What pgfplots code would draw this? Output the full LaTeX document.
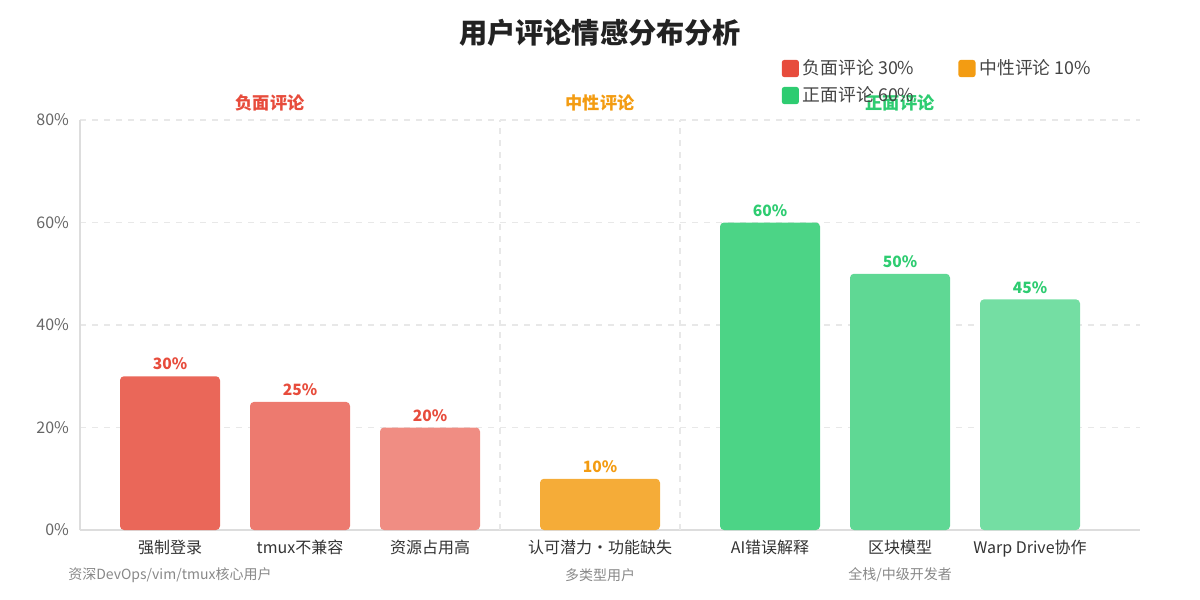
\documentclass[border=0pt]{standalone}
\usepackage{fontspec}
\setmainfont{Noto Sans CJK SC}
\usepackage{pgfplots}
\pgfplotsset{compat=1.18}

% palette
\definecolor{negT}{HTML}{E74C3C}
\definecolor{neuT}{HTML}{F39C12}
\definecolor{posT}{HTML}{2ECC71}
\definecolor{negA}{HTML}{EA6759}
\definecolor{negB}{HTML}{ED7A6F}
\definecolor{negC}{HTML}{F08D83}
\definecolor{neuA}{HTML}{F5AC38}
\definecolor{posA}{HTML}{4CD486}
\definecolor{posB}{HTML}{5FD894}
\definecolor{posC}{HTML}{74DEA3}
\definecolor{gridc}{HTML}{E8E8E8}
\definecolor{axisc}{HTML}{DDDDDD}
\definecolor{tickc}{HTML}{666666}
\definecolor{catc}{HTML}{333333}
\definecolor{subc}{HTML}{888888}
\definecolor{titlec}{HTML}{222222}
\definecolor{legc}{HTML}{444444}

\begin{document}
\begin{tikzpicture}
\path[use as bounding box] (-40pt,-35pt) rectangle (560pt,265pt);
\begin{axis}[
  at={(0pt,0pt)}, anchor=south west,
  scale only axis, width=530pt, height=205pt,
  xmin=80, xmax=1140, ymin=0, ymax=80,
  clip=false,
  axis x line*=bottom, axis y line*=left,
  axis line style={draw=axisc, line width=0.9pt, -},
  major tick length=0pt,
  ytick={0,20,40,60,80},
  yticklabel={\pgfmathprintnumber{\tick}\%},
  /pgf/number format/assume math mode=true,
  yticklabel style={text=tickc, font=\fontsize{8}{9.6}\selectfont, xshift=-2pt},
  ymajorgrids,
  grid style={draw=gridc, dashed, line width=0.6pt, dash pattern=on 3pt off 3pt},
  xtick={170,300,430,600,770,900,1030},
  xticklabels={强制登录, tmux不兼容, 资源占用高, 认可潜力・功能缺失, AI错误解释, 区块模型, Warp Drive协作},
  xticklabel style={text=catc, font=\fontsize{8}{9.6}\selectfont, yshift=-1.5pt},
  ybar, bar width=100, bar shift=0pt,
  nodes near coords={\pgfmathprintnumber{\pgfplotspointmeta}\%},
  every node near coord/.append style={font=\bfseries\fontsize{7.8}{9}\selectfont, yshift=-0.5pt},
  legend columns=2,
  legend cell align=left,
  legend style={at={(rel axis cs:0.656,1.168)}, anchor=north west, draw=none, fill=none,
    font=\fontsize{8.9}{10}\selectfont, text=legc, row sep=0.5pt,
    /tikz/every even column/.append style={column sep=20pt}},
  legend image code/.code={\fill[#1, draw=none, rounded corners=1.3pt] (0pt,-4.3pt) rectangle (8.6pt,4.3pt);},
]
% group separators
\draw[gridc, dash pattern=on 3pt off 3pt, line width=0.6pt] (axis cs:500,0) -- (axis cs:500,80);
\draw[gridc, dash pattern=on 3pt off 3pt, line width=0.6pt] (axis cs:680,0) -- (axis cs:680,80);

% negative reviews
\addplot[forget plot, fill=negA, draw=none, rounded corners=2pt, every node near coord/.append style={text=negT}] coordinates {(170,30)};
\addplot[forget plot, fill=negB, draw=none, rounded corners=2pt, every node near coord/.append style={text=negT}] coordinates {(300,25)};
\addplot[forget plot, fill=negC, draw=none, rounded corners=2pt, every node near coord/.append style={text=negT}] coordinates {(430,20)};
% neutral reviews (single, wider bar)
\addplot[forget plot, bar width=120, fill=neuA, draw=none, rounded corners=2pt, every node near coord/.append style={text=neuT}] coordinates {(600,10)};
% positive reviews
\addplot[forget plot, fill=posA, draw=none, rounded corners=2pt, every node near coord/.append style={text=posT}] coordinates {(770,60)};
\addplot[forget plot, fill=posB, draw=none, rounded corners=2pt, every node near coord/.append style={text=posT}] coordinates {(900,50)};
\addplot[forget plot, fill=posC, draw=none, rounded corners=2pt, every node near coord/.append style={text=posT}] coordinates {(1030,45)};

\addlegendimage{fill=negT, draw=none}\addlegendentry{负面评论 30\%}
\addlegendimage{fill=neuT, draw=none}\addlegendentry{中性评论 10\%}
\addlegendimage{fill=posT, draw=none}\addlegendentry{正面评论 60\%}

% title
\node[font=\bfseries\fontsize{14.1}{16}\selectfont, text=titlec] at (axis cs:600,97) {用户评论情感分布分析};

% group headers
\node[font=\bfseries\fontsize{8.6}{10}\selectfont, text=negT] at (axis cs:270,83.3) {负面评论};
\node[font=\bfseries\fontsize{8.6}{10}\selectfont, text=neuT] at (axis cs:600,83.3) {中性评论};
\node[font=\bfseries\fontsize{8.6}{10}\selectfont, text=posT] at (axis cs:900,83.3) {正面评论};

% audience notes
\node[font=\fontsize{7}{8}\selectfont, text=subc] at (axis cs:170,-8.8) {资深DevOps/vim/tmux核心用户};
\node[font=\fontsize{7}{8}\selectfont, text=subc] at (axis cs:600,-8.8) {多类型用户};
\node[font=\fontsize{7}{8}\selectfont, text=subc] at (axis cs:900,-8.8) {全栈/中级开发者};
\end{axis}
\end{tikzpicture}
\end{document}
